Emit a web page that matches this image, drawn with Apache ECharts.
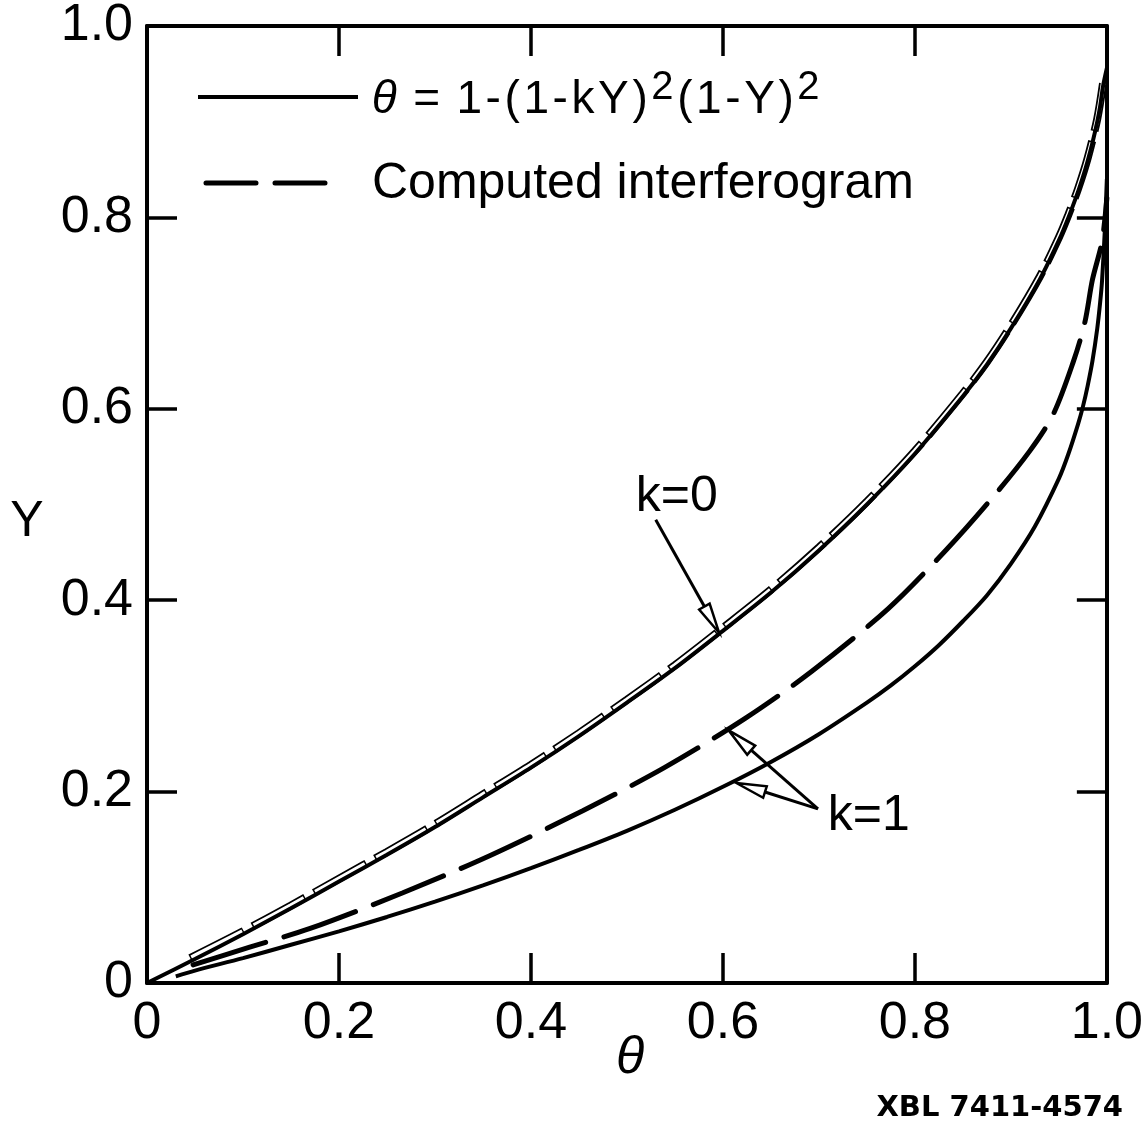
<!DOCTYPE html>
<html>
<head>
<meta charset="utf-8">
<script src="https://cdn.jsdelivr.net/npm/echarts@6.0.0/dist/echarts.min.js"></script>
<style>
  html, body { margin: 0; padding: 0; background: #fff; }
  #chart { width: 1146px; height: 1127px; }
</style>
</head>
<body>
<div id="chart"></div>
<script>
// k = 0, theta = 1-(1-Y)^2
const thetaK0 = [0, 0.05, 0.1, 0.15, 0.2, 0.25, 0.3, 0.35, 0.4, 0.45, 0.5, 0.55, 0.6, 0.65, 0.7, 0.75, 0.8, 0.85, 0.875, 0.9, 0.93, 0.95, 0.96, 0.97, 0.975, 0.98, 0.985, 0.99, 0.993, 0.996, 1.0];
const yK0 = [0, 0.025, 0.051, 0.078, 0.106, 0.134, 0.163, 0.194, 0.225, 0.258, 0.293, 0.329, 0.368, 0.408, 0.452, 0.5, 0.553, 0.613, 0.646, 0.684, 0.735, 0.776, 0.8, 0.827, 0.842, 0.859, 0.878, 0.9, 0.916, 0.937, 0.956];

// k = 0, computed interferogram (hollow dashes)
const thetaC0 = [0.045, 0.1, 0.15, 0.2, 0.25, 0.3, 0.35, 0.4, 0.45, 0.5, 0.55, 0.6, 0.65, 0.7, 0.75, 0.8, 0.85, 0.875, 0.9, 0.93, 0.95, 0.96, 0.97, 0.98, 0.99, 0.996];
const yC0 = [0.026, 0.054, 0.081, 0.109, 0.137, 0.166, 0.197, 0.228, 0.261, 0.296, 0.332, 0.371, 0.411, 0.455, 0.503, 0.556, 0.616, 0.649, 0.687, 0.738, 0.779, 0.803, 0.83, 0.862, 0.903, 0.94];

// k = 1, theta = 1-(1-Y)^4
const thetaK1 = [0.03, 0.05, 0.1, 0.15, 0.2, 0.25, 0.3, 0.35, 0.4, 0.45, 0.5, 0.55, 0.6, 0.65, 0.7, 0.75, 0.775, 0.8, 0.825, 0.85, 0.875, 0.9, 0.925, 0.95, 0.96, 0.97, 0.975, 0.98, 0.985, 0.99, 0.993, 0.995, 0.998, 1.0];
const yK1 = [0.007, 0.013, 0.026, 0.04, 0.054, 0.069, 0.085, 0.102, 0.12, 0.139, 0.159, 0.181, 0.205, 0.231, 0.26, 0.293, 0.311, 0.331, 0.353, 0.378, 0.405, 0.438, 0.477, 0.527, 0.553, 0.584, 0.602, 0.624, 0.65, 0.684, 0.711, 0.734, 0.789, 0.84];

// k = 1, computed interferogram (dashed)
const thetaD1 = [0.048, 0.107, 0.17, 0.266, 0.357, 0.454, 0.539, 0.624, 0.693, 0.772, 0.833, 0.879, 0.919, 0.944, 0.965, 0.977, 0.985, 0.995, 1.0];
const yD1 = [0.019, 0.0375, 0.057, 0.094, 0.133, 0.18, 0.225, 0.277, 0.326, 0.391, 0.453, 0.505, 0.555, 0.594, 0.649, 0.69, 0.735, 0.775, 0.82];

// annotation anchors (data coords): label centre, arrow tails, arrow tips
const k0Label = [0.552, 0.508];
const k0Tail = [0.53, 0.484];
const k0Tip = [0.596, 0.366];
const k1Label = [0.752, 0.174];
const k1Tail = [0.699, 0.182];
const k1TipDashed = [0.606, 0.264];
const k1TipSolid = [0.614, 0.209];

const FONT = "Liberation Sans";
const pairs = (xs, ys) => xs.map((x, i) => [x, ys[i]]);

let myChart = echarts.init(document.getElementById("chart"));

const axisLine = { show: true, onZero: false, lineStyle: { color: "#000", width: 4 } };
const axisTick = { show: true, inside: true, length: 30, lineStyle: { color: "#000", width: 3.5 } };
const tickLabel = (v) => (v === 0 ? "0" : v.toFixed(1));

function makeAxis(pos, showLabel) {
  return {
    type: "value",
    position: pos,
    min: 0,
    max: 1,
    interval: 0.2,
    axisLine: axisLine,
    axisTick: axisTick,
    splitLine: { show: false },
    axisLabel: {
      show: showLabel,
      formatter: tickLabel,
      color: "#000",
      fontFamily: FONT,
      fontSize: 52,
      margin: pos === "bottom" ? 15 : 14,
    },
  };
}

// shared look of the curves
function curve(name, xs, ys, z, lineStyle) {
  return {
    name: name,
    type: "line",
    z: z,
    showSymbol: false,
    smooth: 0.3,
    data: pairs(xs, ys),
    lineStyle: lineStyle,
  };
}

let option = {
  backgroundColor: "#fff",
  animation: false,
  grid: { left: 147, right: 39, top: 23, bottom: 144 },
  xAxis: [makeAxis("bottom", true), makeAxis("top", false)],
  yAxis: [makeAxis("left", true), makeAxis("right", false)],
  series: [
    // hollow dashes for the k=0 interferogram: black outline then white core
    curve("Computed interferogram k=0 outline", thetaC0, yC0, 2,
      { color: "#000", width: 8, type: [60, 10], cap: "butt" }),
    curve("Computed interferogram k=0", thetaC0, yC0, 3,
      { color: "#fff", width: 4.5, type: [57, 13], dashOffset: -1.5, cap: "butt" }),
    curve("k=0", thetaK0, yK0, 4, { color: "#000", width: 4 }),
    curve("k=1", thetaK1, yK1, 4, { color: "#000", width: 4 }),
    curve("Computed interferogram k=1", thetaD1, yD1, 4,
      { color: "#000", width: 5, type: [76, 19], cap: "round" }),
  ],
};

option && myChart.setOption(option);

// arrows and labels placed through the chart's own scales
function px(p) {
  return myChart.convertToPixel({ xAxisIndex: 0, yAxisIndex: 0 }, p);
}

function arrow(tailData, tipData) {
  const a = px(tailData);
  const b = px(tipData);
  const dx = b[0] - a[0];
  const dy = b[1] - a[1];
  const len = Math.sqrt(dx * dx + dy * dy);
  const ux = dx / len;
  const uy = dy / len;
  const headLen = 30;
  const headW = 6;
  const bx = b[0] - ux * headLen;
  const by = b[1] - uy * headLen;
  return [
    {
      type: "line",
      shape: { x1: a[0], y1: a[1], x2: bx, y2: by },
      style: { stroke: "#000", lineWidth: 3 },
      z: 10,
    },
    {
      type: "polygon",
      shape: {
        points: [
          [b[0], b[1]],
          [bx - uy * headW, by + ux * headW],
          [bx + uy * headW, by - ux * headW],
        ],
      },
      style: { fill: "#fff", stroke: "#000", lineWidth: 2.5 },
      z: 10,
    },
  ];
}

function text(str, x, y, extra) {
  return {
    type: "text",
    x: x,
    y: y,
    z: 10,
    style: Object.assign({
      text: str,
      fill: "#000",
      fontFamily: FONT,
      fontSize: 50,
      align: "center",
      verticalAlign: "middle",
    }, extra || {}),
  };
}

function label(str, at) {
  const p = px(at);
  return text(str, p[0], p[1]);
}

// legend formula, one rich token per glyph so it can be spaced out like the lettering
const formulaParts = [["t", "θ"], ["m", " = "], ["m", "1"], ["m", "-"], ["m", "("], ["m", "1"], ["m", "-"], ["m", "k"], ["m", "Y"], ["m", ")"], ["s", "2"], ["m", "("], ["m", "1"], ["m", "-"], ["m", "Y"], ["m", ")"], ["s", "2"]];
const formulaText = formulaParts.map((p) => "{" + p[0] + "|" + p[1] + "}").join("");
const richBase = { fill: "#000", fontFamily: FONT, fontSize: 46, lineHeight: 64, padding: [0, 1.8] };

let graphic = [].concat(
  arrow(k0Tail, k0Tip),
  arrow(k1Tail, k1TipDashed),
  arrow(k1Tail, k1TipSolid),
  [
    label("k=0", k0Label),
    label("k=1", k1Label),
    // axis names
    text("Y", 27, 522),
    text("θ", 630, 1059, { fontSize: 52, fontStyle: "italic" }),
    // legend
    {
      type: "line",
      shape: { x1: 198, y1: 97, x2: 358, y2: 97 },
      style: { stroke: "#000", lineWidth: 4 },
    },
    {
      type: "line",
      shape: { x1: 206, y1: 183, x2: 328, y2: 183 },
      style: { stroke: "#000", lineWidth: 5, lineDash: [50, 19], lineCap: "round" },
    },
    {
      type: "text",
      x: 370,
      y: 100,
      style: {
        text: formulaText,
        fill: "#000",
        verticalAlign: "middle",
        rich: {
          t: Object.assign({}, richBase, { fontStyle: "italic" }),
          m: richBase,
          s: { fill: "#000", fontFamily: FONT, fontSize: 40, lineHeight: 22, verticalAlign: "top", padding: [0, 1.8] },
        },
      },
    },
    text("Computed interferogram", 372, 184, { align: "left" }),
    text("XBL 7411-4574", 1123, 1108, { fontFamily: "DejaVu Sans", fontWeight: "bold", fontSize: 29, align: "right" }),
  ]
);

myChart.setOption({ graphic: graphic });
</script>
</body>
</html>
